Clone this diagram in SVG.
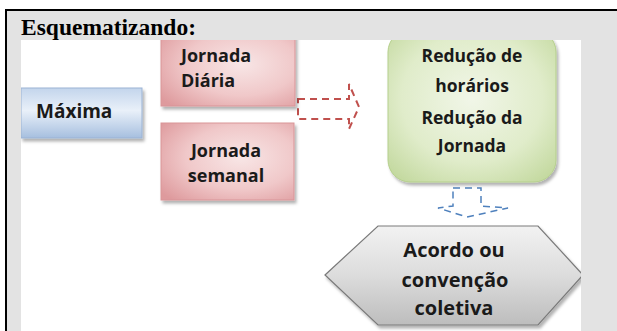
<svg xmlns="http://www.w3.org/2000/svg" width="617" height="331" viewBox="0 0 617 331">
  <style>
    .title { font-family: "Liberation Serif", "Times New Roman", serif; font-weight: bold; font-size: 23.5px; fill: #000; }
    .lbl { font-family: "Open Sans", "Noto Sans", "DejaVu Sans", sans-serif; font-weight: bold; fill: #1a1a1a; }
    .c { text-anchor: middle; }
  </style>
  <defs>
    <linearGradient id="gBlue" x1="0" y1="0" x2="0" y2="1">
      <stop offset="0" stop-color="#c3d5ec"/>
      <stop offset="0.45" stop-color="#e9f0f9"/>
      <stop offset="1" stop-color="#a6bfdf"/>
    </linearGradient>
    <radialGradient id="gPink" cx="0.6" cy="0.45" r="0.75">
      <stop offset="0" stop-color="#f8e6e6"/>
      <stop offset="0.55" stop-color="#f0c8c9"/>
      <stop offset="1" stop-color="#de9a9d"/>
    </radialGradient>
    <radialGradient id="gGreen" cx="0.5" cy="0.45" r="0.7">
      <stop offset="0" stop-color="#f1f6e8"/>
      <stop offset="0.6" stop-color="#e0ecca"/>
      <stop offset="1" stop-color="#c2d89d"/>
    </radialGradient>
    <linearGradient id="gGray" x1="0" y1="0" x2="0" y2="1">
      <stop offset="0" stop-color="#f2f2f2"/>
      <stop offset="0.5" stop-color="#dcdcdc"/>
      <stop offset="1" stop-color="#bdbdbd"/>
    </linearGradient>
    <filter id="shadow" x="-10%" y="-10%" width="130%" height="140%">
      <feDropShadow dx="2" dy="3" stdDeviation="1.5" flood-color="#000" flood-opacity="0.3"/>
    </filter>
    <clipPath id="pic">
      <rect x="21" y="40" width="560" height="291"/>
    </clipPath>
  </defs>

  <!-- page frame -->
  <rect x="0" y="0" width="617" height="331" fill="#fff"/>
  <rect x="7" y="11" width="610" height="320" fill="#e3e3e3"/>
  <rect x="5" y="9" width="612" height="2" fill="#000"/>
  <rect x="5" y="9" width="2" height="322" fill="#000"/>
  <text class="title" x="21" y="35">Esquematizando:</text>

  <!-- diagram area -->
  <rect x="21" y="40" width="560" height="291" fill="#fff"/>
  <g clip-path="url(#pic)">
    <g id="connectors" fill="none" stroke-dasharray="7 5">
      <path d="M298,99 L349,99 L349,84 L359,107 L349,129 L349,119 L298,119 Z" stroke="#c0504d" stroke-width="2"/>
      <path d="M453,188 L481,188 L481,206 L508,208 L467,217 L438,208 L453,206 Z" stroke="#4f81bd" stroke-width="1.5"/>
    </g>

    <g id="maxima">
      <rect x="21" y="88" width="121" height="50" fill="url(#gBlue)" stroke="#9bb3d4" stroke-width="1" filter="url(#shadow)"/>
      <text class="lbl" x="36" y="118" font-size="19">Máxima</text>
    </g>

    <g id="jornada-diaria">
      <rect x="161" y="30" width="134" height="76" fill="url(#gPink)" stroke="#d99598" stroke-width="1" filter="url(#shadow)"/>
      <text class="lbl" x="181" y="62" font-size="18">Jornada</text>
      <text class="lbl" x="181" y="87" font-size="18">Diária</text>
    </g>

    <g id="jornada-semanal">
      <rect x="161" y="123" width="133" height="77" fill="url(#gPink)" stroke="#d99598" stroke-width="1" filter="url(#shadow)"/>
      <text class="lbl c" x="226" y="157" font-size="18">Jornada</text>
      <text class="lbl c" x="226" y="182" font-size="18">semanal</text>
    </g>

    <g id="reducao">
      <rect x="388" y="30" width="168" height="152" rx="22" ry="22" fill="url(#gGreen)" stroke="#b5cf8c" stroke-width="1" filter="url(#shadow)"/>
      <text class="lbl c" x="472" y="62" font-size="17.5">Redução de</text>
      <text class="lbl c" x="472" y="92" font-size="17.5">horários</text>
      <text class="lbl c" x="472" y="124" font-size="17.5">Redução da</text>
      <text class="lbl c" x="472" y="152" font-size="17.5">Jornada</text>
    </g>

    <g id="acordo">
      <polygon points="325,275 378,226 538,226 583,275 538,325 378,325" fill="url(#gGray)" stroke="#7a7a7a" stroke-width="1.2" filter="url(#shadow)"/>
      <text class="lbl c" x="454" y="257" font-size="20">Acordo ou</text>
      <text class="lbl c" x="455" y="287" font-size="20">convenção</text>
      <text class="lbl c" x="454" y="315" font-size="20">coletiva</text>
    </g>
  </g>
</svg>
